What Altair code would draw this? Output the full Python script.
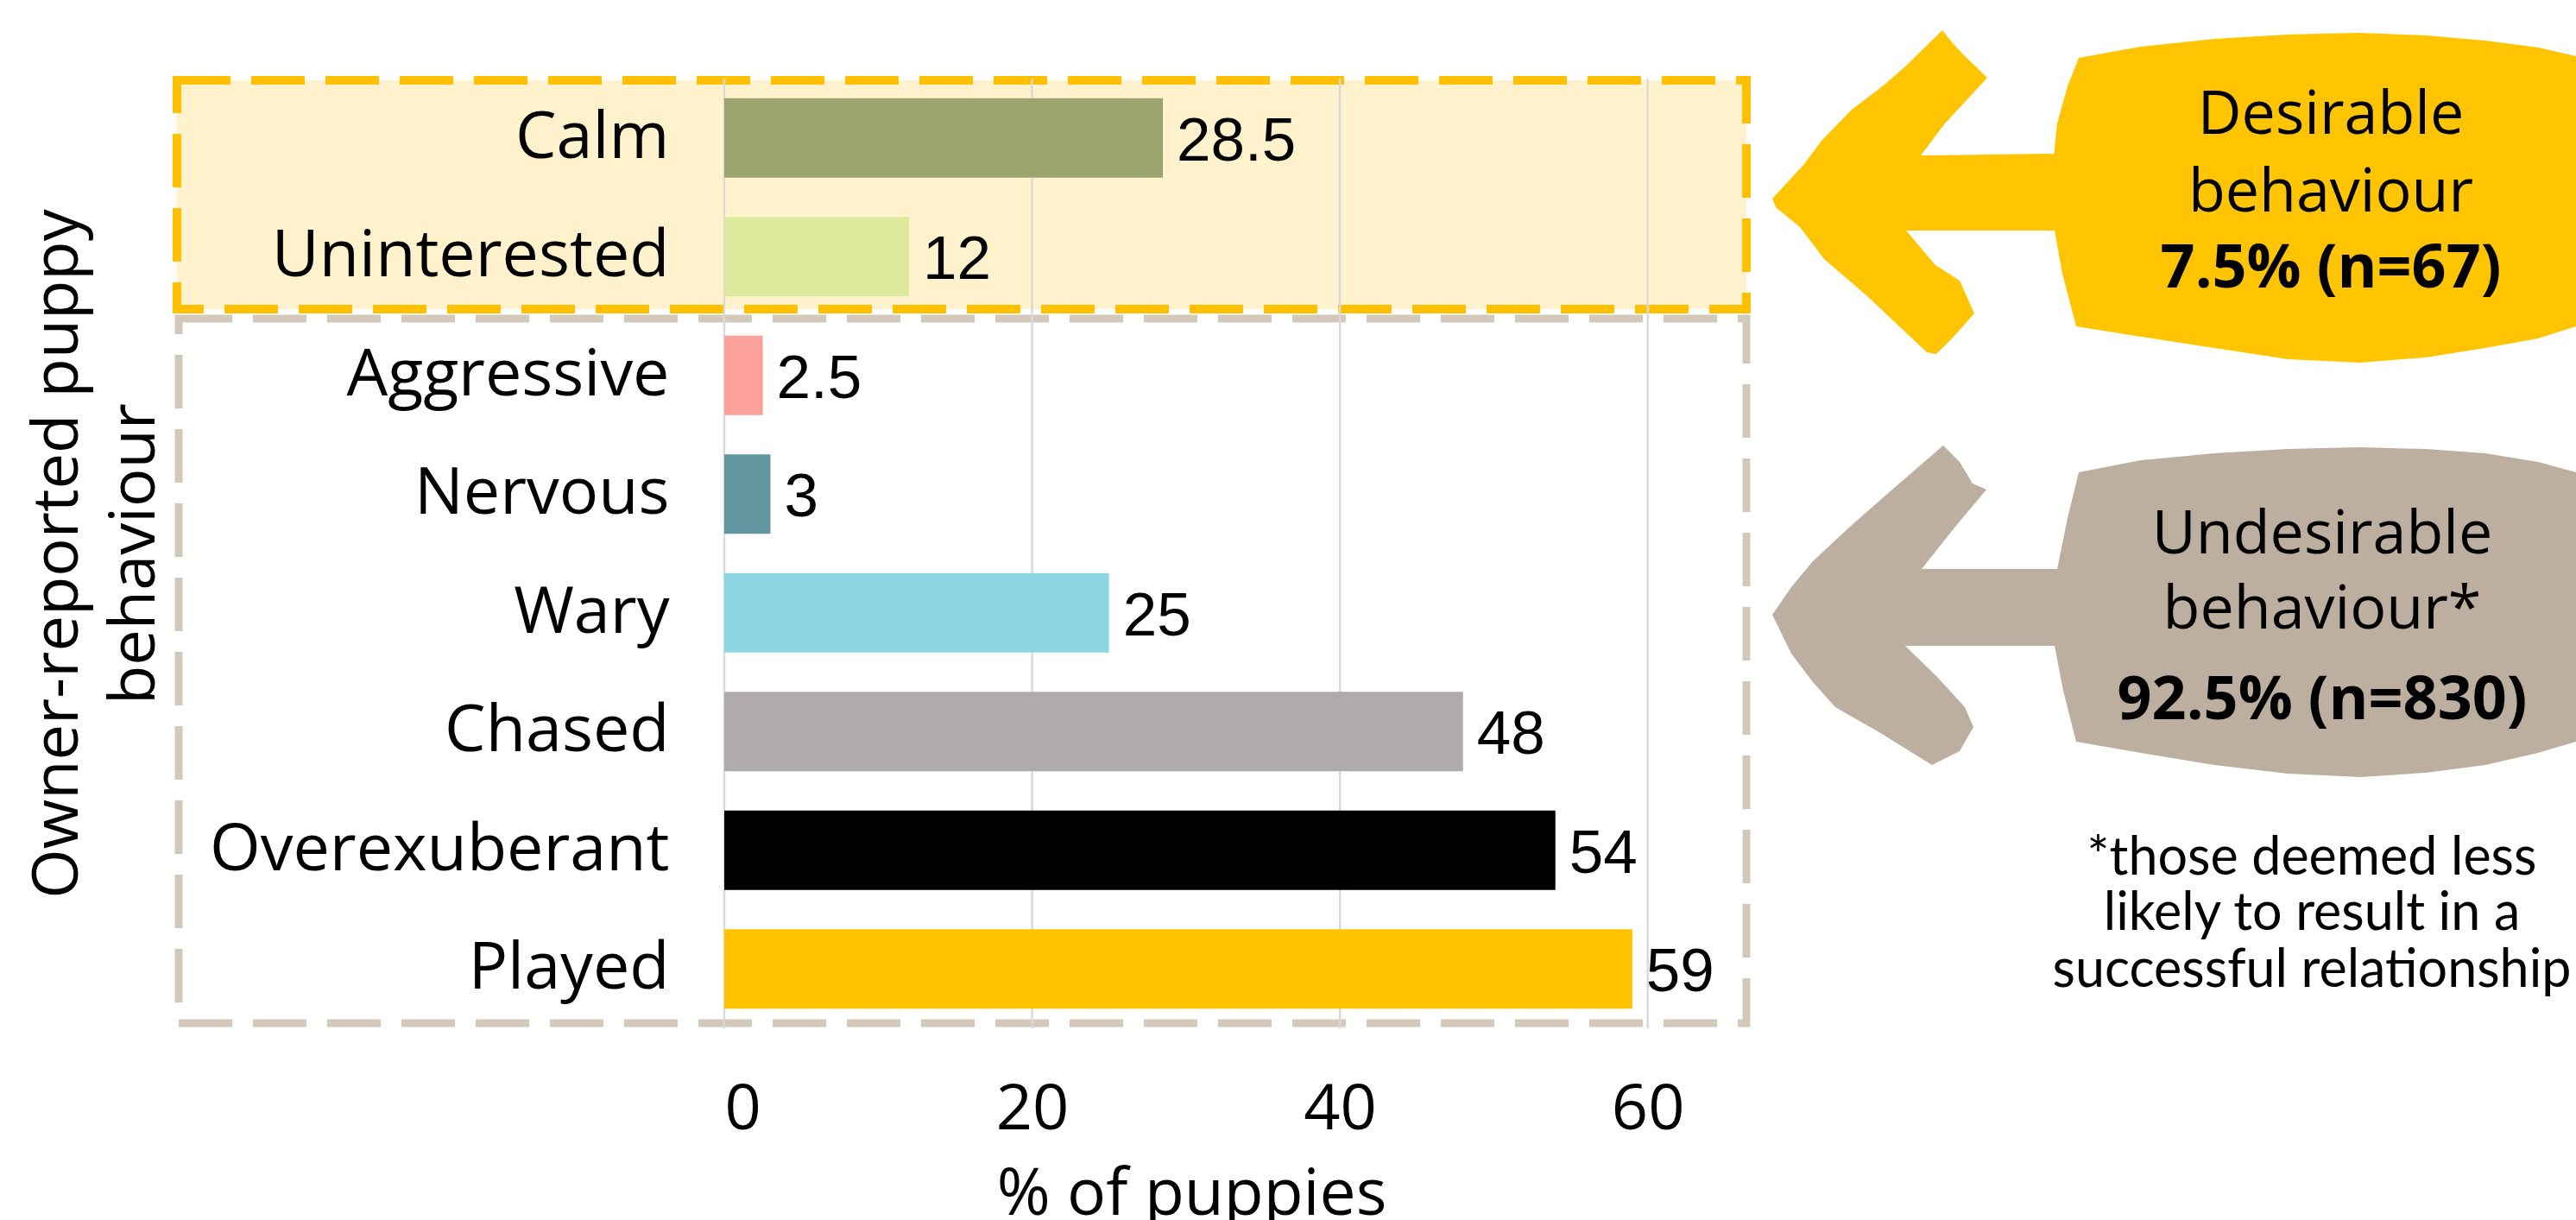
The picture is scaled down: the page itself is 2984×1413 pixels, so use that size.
import altair as alt
import pandas as pd

# ---------------- data ----------------
categories = ["Calm", "Uninterested", "Aggressive", "Nervous", "Wary",
              "Chased", "Overexuberant", "Played"]
values = [28.5, 12, 2.5, 3, 25, 48, 54, 59]
value_labels = ["28.5", "12", "2.5", "3", "25", "48", "54", "59"]
bar_colors = ["#9BA46C", "#DDE99C", "#FDA29B", "#6196A0", "#8DD7E5",
              "#AFABAB", "#000000", "#FFC300"]
x_ticks = [0, 20, 40, 60]

desirable_lines = ["Desirable", "behaviour"]
desirable_bold = "7.5% (n=67)"
undesirable_lines = ["Undesirable", "behaviour*"]
undesirable_bold = "92.5% (n=830)"
footnote_lines = ["*those deemed less", "likely to result in a",
                  "successful relationship"]

# ---------------- layout (pixels) ----------------
OX, OY = 839, 91          # plot-area origin on the page
W, H = 1182, 1100         # plot-area size
PAGE_W, PAGE_H = 2984, 1413

MAIN_FONT = "Open Sans"
NUM_FONT = "Liberation Sans"
NOTE_FONT = "Lato"

YELLOW = "#FFC503"
GREY = "#BCAF9F"

# decorative shapes, page pixel coordinates
yellow_blob = [(2408, 67), (2480, 54), (2565, 45), (2650, 40), (2734, 38), (2810, 41),
               (2879, 47), (2940, 55), (2984, 65), (3000, 68), (3000, 380),
               (2984, 378), (2940, 392), (2879, 403), (2810, 414), (2734, 420),
               (2650, 416), (2565, 403), (2480, 390), (2405, 378), (2389, 317),
               (2380, 267), (2377, 200), (2383, 143), (2395, 100), (2408, 67)]
yellow_arrow = [(2053, 230), (2090, 190), (2110, 163), (2145, 127), (2183, 98),
                (2207, 77), (2250, 35), (2262, 50), (2273, 62), (2302, 90),
                (2253, 143), (2225, 180), (2373, 178), (2503, 187),
                (2503, 267), (2380, 267), (2208, 267), (2242, 307), (2270, 325),
                (2287, 363), (2263, 390), (2243, 410), (2232, 408), (2163, 343),
                (2113, 300), (2085, 263), (2057, 240), (2053, 230)]
grey_blob = [(2408, 547), (2480, 533), (2565, 525), (2650, 520), (2734, 518),
             (2810, 520), (2879, 525), (2940, 535), (2984, 547), (3000, 550),
             (3000, 860), (2984, 859), (2940, 872), (2879, 886), (2810, 895),
             (2734, 900), (2650, 896), (2565, 886), (2480, 872), (2405, 859),
             (2390, 800), (2380, 748), (2380, 700), (2383, 659), (2395, 600),
             (2408, 547)]
grey_arrow = [(2053, 712), (2075, 680), (2100, 650), (2144, 609), (2200, 560),
              (2251, 516), (2270, 535), (2285, 560), (2301, 567), (2265, 610),
              (2226, 659), (2420, 659), (2420, 748), (2207, 748), (2245, 785),
              (2276, 819), (2286, 842), (2270, 870), (2238, 886), (2180, 850),
              (2126, 819), (2100, 790), (2075, 757), (2053, 712)]


def svg_path(points):
    pts = [(x - OX, y - OY) for x, y in points]
    return "M" + " L".join(f"{x},{y}" for x, y in pts) + " Z"


df = pd.DataFrame({"behaviour": categories, "pct": values,
                   "label": value_labels, "color": bar_colors})
ticks_df = pd.DataFrame({"t": x_ticks})
one = pd.DataFrame({"k": [0]})

xscale = alt.Scale(domain=[0, 66.3], nice=False, zero=True)
yscale = alt.Scale(paddingInner=0.33, paddingOuter=0.165)

x_axis = alt.Axis(values=x_ticks, title="% of puppies",
                  titleX=541, titleY=215, titleBaseline="alphabetic",
                  titleAlign="center", titleFont=MAIN_FONT,
                  titleFontSize=75, titleFontWeight="normal",
                  titleColor="black",
                  labelFont=MAIN_FONT, labelFontSize=74,
                  labelColor="black", labelBaseline="alphabetic",
                  labelPadding=116, ticks=False, tickSize=0,
                  domain=False, grid=False, zindex=1)
y_axis = alt.Axis(title=["Owner-reported puppy", "behaviour"],
                  titleAngle=270, titleX=-750, titleY=550,
                  titleBaseline="alphabetic", titleAlign="center",
                  titleLineHeight=89, titleFont=MAIN_FONT,
                  titleFontSize=74, titleFontWeight="normal",
                  titleColor="black",
                  labelFont=MAIN_FONT, labelFontSize=75.5, labelLimit=2000,
                  labelColor="black", labelPadding=64,
                  ticks=False, tickSize=0, domain=False, grid=False, zindex=1)

# ---------------- layers ----------------
yellow_box = alt.Chart(one).mark_rect(
    fill="#FFF2CC", stroke="#FFC000", strokeWidth=10, strokeDash=[62, 24]
).encode(x=alt.value(-634), x2=alt.value(1184), y=alt.value(2), y2=alt.value(267))

grey_box = alt.Chart(one).mark_rect(
    fillOpacity=0, stroke="#D3C9BB", strokeWidth=9, strokeDash=[62, 24]
).encode(x=alt.value(-632), x2=alt.value(1184), y=alt.value(278), y2=alt.value(1094))

grid = alt.Chart(ticks_df).mark_rule(color="#D9D9D9", strokeWidth=2.5).encode(
    x=alt.X("t:Q", scale=xscale, axis=x_axis),
    y=alt.value(0), y2=alt.value(H))

bars = alt.Chart(df).mark_bar().encode(
    y=alt.Y("behaviour:N", sort=categories, scale=yscale, axis=y_axis),
    x=alt.X("pct:Q", scale=xscale, axis=x_axis),
    color=alt.Color("color:N", scale=None),
)

bar_text = alt.Chart(df).mark_text(
    align="left", baseline="alphabetic", dx=16, dy=26,
    font=NUM_FONT, fontSize=71, color="black"
).encode(
    y=alt.Y("behaviour:N", sort=categories, scale=yscale, axis=y_axis),
    x=alt.X("pct:Q", scale=xscale, axis=x_axis),
    text="label:N",
)


def shape_layer(points, color):
    # custom symbol path: size 4 -> path units are pixels
    return alt.Chart(one).mark_point(
        shape=svg_path(points), size=4, filled=True, fill=color,
        opacity=1, fillOpacity=1, strokeWidth=0
    ).encode(x=alt.value(0), y=alt.value(0))


shapes = [shape_layer(yellow_blob, YELLOW), shape_layer(yellow_arrow, YELLOW),
          shape_layer(grey_blob, GREY), shape_layer(grey_arrow, GREY)]


def text_at(txt, x, y, font, size, weight="normal"):
    return alt.Chart(one).mark_text(
        align="center", baseline="alphabetic", font=font, fontSize=size,
        fontWeight=weight, color="black"
    ).encode(x=alt.value(x - OX), y=alt.value(y - OY), text=alt.value(txt))


texts = [
    text_at(desirable_lines[0], 2700, 155, MAIN_FONT, 70),
    text_at(desirable_lines[1], 2700, 245, MAIN_FONT, 70),
    text_at(desirable_bold, 2700, 333, MAIN_FONT, 70, "bold"),
    text_at(undesirable_lines[0], 2690, 641, MAIN_FONT, 70),
    text_at(undesirable_lines[1], 2690, 728, MAIN_FONT, 70),
    text_at(undesirable_bold, 2690, 833, MAIN_FONT, 70, "bold"),
    text_at(footnote_lines[0], 2678, 1013, NOTE_FONT, 61),
    text_at(footnote_lines[1], 2678, 1077, NOTE_FONT, 61),
    text_at(footnote_lines[2], 2678, 1143, NOTE_FONT, 61),
]

chart = alt.layer(
    yellow_box, grey_box, grid, bars, bar_text, *shapes, *texts
).properties(
    width=W, height=H,
    padding={"left": OX, "top": OY, "right": PAGE_W - OX - W,
             "bottom": PAGE_H - OY - H},
    autosize=alt.AutoSizeParams(type="none"),
    background="white",
).configure_view(strokeWidth=0)

chart.save("out.html", embed_options={"renderer": "svg", "actions": False})
